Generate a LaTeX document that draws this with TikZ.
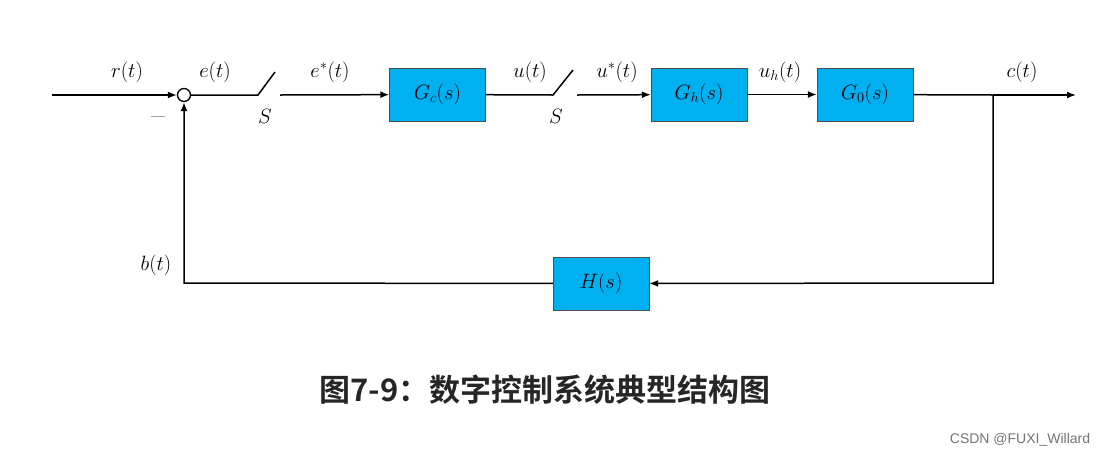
\documentclass[tikz,border=0pt]{standalone}
\usepackage{fontspec}
\newfontfamily\cjk{Noto Sans CJK SC}[BoldFont={* Bold}]
\setsansfont{Liberation Sans}
\usetikzlibrary{arrows.meta}
\definecolor{blk}{RGB}{0,176,240}
\begin{document}
\begin{tikzpicture}[x=1pt,y=-1pt,
  blk/.style={draw=black!70,fill=blk,minimum width=96pt,minimum height=53pt,inner sep=0pt,font=\fontsize{20}{24}\selectfont},
  lab/.style={font=\fontsize{20}{24}\selectfont},
  ar/.style={-{Latex[length=9pt,width=7pt]},line width=1.5pt},
  ln/.style={line width=1.5pt}]
\useasboundingbox (0,0) rectangle (1116,459);
\coordinate (in) at (52,95);
\node[circle,draw,line width=1.3pt,minimum size=13pt,inner sep=0pt] (sum) at (184,95) {};
\coordinate (s1a) at (258,95); \coordinate (s1b) at (275,72); \coordinate (s1c) at (280,95);
\node[blk] (gc) at (437.5,94.5) {$G_c(s)$};
\coordinate (s2a) at (553,95); \coordinate (s2b) at (573,70); \coordinate (s2c) at (577,95);
\node[blk] (gh) at (699,94.5) {$G_h(s)$};
\node[blk] (g0) at (865,94.5) {$G_0(s)$};
\coordinate (br) at (993,95);
\coordinate (out) at (1076,95);
\coordinate (br2) at (993,283);
\node[blk] (h) at (601,283.5) {$H(s)$};
\coordinate (fb) at (184,283);
\draw[ar] (in) -- (sum);
\draw[ln] (sum) -- (s1a) -- (s1b);
\draw[ar] (s1c) -- (gc);
\draw[ln] (gc) -- (s2a) -- (s2b);
\draw[ar] (s2c) -- (gh);
\draw[ar] (gh) -- (g0);
\draw[ln] (g0) -- (br);
\draw[ar] (br) -- (out);
\draw[ar] (br) -- (br2) -- (h);
\draw[ar] (h) -- (fb) -- (sum);
\node[lab] (l1) at (127,72) {$r(t)$};
\node[lab] (l2) at (215,72) {$e(t)$};
\node[lab] (l3) at (330,72) {$e^*(t)$};
\node[lab] (l4) at (265,116) {$S$};
\node[lab] (l5) at (530,72) {$u(t)$};
\node[lab] (l6) at (617,72) {$u^*(t)$};
\node[lab] (l7) at (556,116) {$S$};
\node[lab] (l8) at (780,72) {$u_h(t)$};
\node[lab] (l9) at (1022,72) {$c(t)$};
\node[lab] (l10) at (158,116) {\_};
\node[lab] (l11) at (156,265) {$b(t)$};
\node[font=\cjk\bfseries\fontsize{31}{36}\selectfont,text=black!85] (cap) at (545,390) {图7-9：数字控制系统典型结构图};
\node[font=\sffamily\fontsize{14}{16}\selectfont,text=black!55] (wm) at (1020,440) {CSDN @FUXI\_Willard};
\end{tikzpicture}
\end{document}
